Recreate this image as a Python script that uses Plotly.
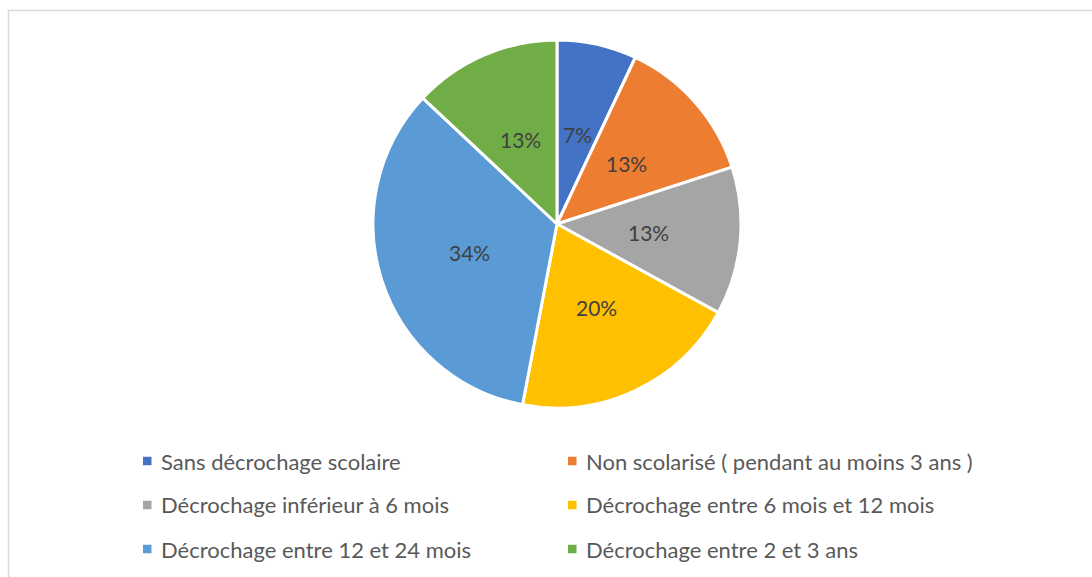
import math
import plotly.graph_objects as go

labels = [
    "Sans décrochage scolaire",
    "Non scolarisé ( pendant au moins 3 ans )",
    "Décrochage inférieur à 6 mois",
    "Décrochage entre 6 mois et 12 mois",
    "Décrochage entre 12 et 24 mois",
    "Décrochage entre 2 et 3 ans",
]
values = [7, 13, 13, 20, 34, 13]
colors = ["#4472C4", "#ED7D31", "#A5A5A5", "#FFC000", "#5B9BD5", "#70AD47"]

W, H = 1092, 577
cx, cy, r = 557, 224, 184

fig = go.Figure(go.Pie(
    labels=labels,
    values=values,
    sort=False,
    direction="clockwise",
    rotation=0,
    marker=dict(colors=colors, line=dict(color="white", width=3)),
    textinfo="none",
    domain=dict(x=[(cx - r) / W, (cx + r) / W], y=[(H - cy - r) / H, (H - cy + r) / H]),
    hoverinfo="label+percent",
    showlegend=False,
))

annotations = []
# slice percentage labels, placed on each slice bisector at half radius
total = sum(values)
cum = 0.0
for v in values:
    mid = (cum + v / 2) / total * 2 * math.pi
    cum += v
    lx = cx + 0.5 * r * math.sin(mid)
    ly = cy - 0.5 * r * math.cos(mid)
    annotations.append(dict(
        x=lx / W, y=(H - ly) / H, xref="paper", yref="paper",
        text=f"{round(v / total * 100)}%", showarrow=False,
        xanchor="center", yanchor="middle",
        font=dict(family="Lato", size=21, color="#404040"),
    ))

# legend: two columns, three rows
shapes = []
col_x = [143, 568]
row_y = [461, 505, 549]
for i, (lab, col) in enumerate(zip(labels, colors)):
    x0 = col_x[i % 2]
    yc = row_y[i // 2]
    shapes.append(dict(type="rect", xref="paper", yref="paper",
                       x0=x0 / W, x1=(x0 + 8.5) / W,
                       y0=(H - yc - 4.25) / H, y1=(H - yc + 4.25) / H,
                       fillcolor=col, line=dict(width=0)))
    annotations.append(dict(
        x=(x0 + 16) / W, y=(H - yc) / H, xref="paper", yref="paper",
        text=lab, showarrow=False, xanchor="left", yanchor="middle",
        font=dict(family="Lato", size=22, color="#595959"),
    ))

shapes.append(dict(type="rect", xref="paper", yref="paper",
                   x0=8.5 / W, x1=1.05, y0=-0.05, y1=(H - 10.5) / H,
                   line=dict(color="#D9D9D9", width=1.5), fillcolor="rgba(0,0,0,0)"))

fig.update_layout(
    width=W, height=H,
    margin=dict(l=0, r=0, t=0, b=0),
    paper_bgcolor="white",
    font=dict(family="Lato", color="#595959"),
    showlegend=False,
    annotations=annotations,
    shapes=shapes,
)

fig.write_html(
    "out.html",
    config={"displayModeBar": False},
    post_script="document.body.style.margin='0';document.body.style.overflow='hidden';",
)
